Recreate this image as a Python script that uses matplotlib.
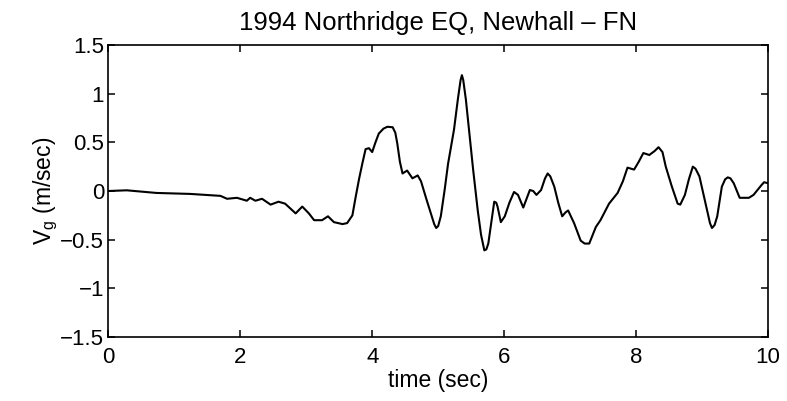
import numpy as np
import matplotlib
matplotlib.use("Agg")
import matplotlib.pyplot as plt

plt.rcParams['font.family'] = ['Liberation Sans', 'DejaVu Sans']

# ground velocity (time in sec, velocity in m/sec)
time_sec = [0.00, 0.28, 0.73, 1.24, 1.70, 1.80, 1.95, 2.10, 2.15, 2.23, 2.33,
            2.46, 2.58, 2.68, 2.84, 2.94, 3.04, 3.12, 3.24, 3.33, 3.42, 3.55, 3.62,
            3.70, 3.75, 3.80, 3.85, 3.90, 3.95, 4.00, 4.05, 4.10, 4.17, 4.23, 4.31,
            4.35, 4.38, 4.42, 4.46, 4.53, 4.61, 4.69, 4.74, 4.82, 4.89, 4.94, 4.97,
            5.00, 5.04, 5.10, 5.15, 5.24, 5.30, 5.34, 5.36, 5.38, 5.42, 5.48, 5.53,
            5.60, 5.65, 5.70, 5.73, 5.76, 5.81, 5.85, 5.88, 5.90, 5.95, 6.01, 6.08,
            6.15, 6.21, 6.29, 6.34, 6.39, 6.44, 6.49, 6.56, 6.62, 6.66, 6.70, 6.76,
            6.82, 6.88, 6.93, 6.97, 7.06, 7.16, 7.22, 7.29, 7.39, 7.46, 7.59, 7.72,
            7.80, 7.87, 7.97, 8.04, 8.11, 8.20, 8.28, 8.34, 8.40, 8.45, 8.54, 8.63,
            8.67, 8.74, 8.80, 8.86, 8.90, 8.96, 9.05, 9.12, 9.15, 9.19, 9.23, 9.30,
            9.35, 9.39, 9.43, 9.48, 9.57, 9.64, 9.71, 9.78, 9.84, 9.90, 9.94, 10.00]
vel = [0.00, 0.007, -0.02, -0.03, -0.05, -0.08, -0.07, -0.10, -0.07, -0.10, -0.08,
       -0.14, -0.11, -0.13, -0.23, -0.16, -0.23, -0.30, -0.30, -0.26, -0.32, -0.34, -0.33,
       -0.25, -0.06, 0.12, 0.28, 0.43, 0.44, 0.40, 0.50, 0.59, 0.64, 0.66, 0.655,
       0.60, 0.49, 0.30, 0.18, 0.21, 0.13, 0.16, 0.10, -0.08, -0.23, -0.34, -0.38,
       -0.36, -0.26, 0.02, 0.28, 0.63, 0.95, 1.14, 1.19, 1.14, 0.94, 0.55, 0.22,
       -0.20, -0.45, -0.61, -0.60, -0.54, -0.30, -0.11, -0.12, -0.16, -0.32, -0.26, -0.12,
       -0.01, -0.04, -0.17, -0.08, 0.01, 0.00, -0.04, 0.01, 0.13, 0.18, 0.15, 0.045,
       -0.12, -0.26, -0.22, -0.20, -0.33, -0.51, -0.54, -0.54, -0.37, -0.30, -0.13, -0.02,
       0.10, 0.24, 0.22, 0.30, 0.39, 0.37, 0.41, 0.45, 0.40, 0.25, 0.05, -0.13,
       -0.14, -0.04, 0.12, 0.25, 0.23, 0.15, -0.12, -0.33, -0.38, -0.35, -0.26, 0.045,
       0.12, 0.14, 0.13, 0.08, -0.07, -0.07, -0.07, -0.04, 0.01, 0.06, 0.09, 0.08]

xticks = [0, 2, 4, 6, 8, 10]
yticks = [-1.5, -1, -0.5, 0, 0.5, 1, 1.5]
ytick_labels = ['\u22121.5', '\u22121', '\u22120.5', '0', '0.5', '1', '1.5']

fig = plt.figure(figsize=(7.87, 4.01), dpi=100)
ax = fig.add_axes([0.1376, 0.1596, 0.8383, 0.7282])
ax.plot(time_sec, vel, color='black', linewidth=1.5)

ax.set_xlim(0, 10)
ax.set_ylim(-1.5, 1.5)
ax.set_xticks(xticks)
ax.set_yticks(yticks)
ax.set_yticklabels(ytick_labels)
ax.tick_params(direction='in', top=True, right=True, length=5, width=1.1,
               labelsize=16)
ax.tick_params(axis='x', pad=7)
ax.tick_params(axis='y', pad=3)
for s in ax.spines.values():
    s.set_linewidth(1.2)

ax.set_title('1994 Northridge EQ, Newhall \u2013 FN', fontsize=18.5, pad=11)
ax.set_xlabel('time (sec)', fontsize=16.5, labelpad=1)
ax.set_ylabel('V$_\\mathregular{g}$ (m/sec)', fontsize=16.5, labelpad=0)

fig.savefig('out.png', dpi=100)
